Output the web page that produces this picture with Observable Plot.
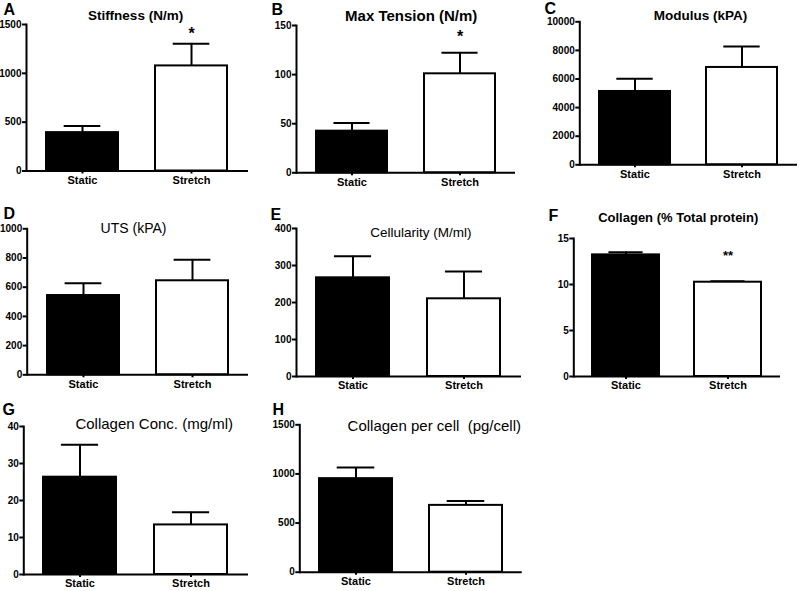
<!DOCTYPE html>
<html><head><meta charset="utf-8">
<script src="https://cdn.jsdelivr.net/npm/d3@7"></script>
<script src="https://cdn.jsdelivr.net/npm/@observablehq/plot@0.6"></script>
<style>
body{margin:0;background:#fff;}
#root{position:relative;width:799px;height:591px;overflow:hidden;background:#fff;}
#root > div{position:absolute;}
</style></head><body><div id="root"></div>
<script>
// ---- data ----
const groups = ["Static", "Stretch"];
const panelLetters = ["A", "B", "C", "D", "E", "F", "G", "H"];
const panelTitles = ["Stiffness (N/m)", "Max Tension (N/m)", "Modulus (kPA)", "UTS (kPA)",
  "Cellularity (M/ml)", "Collagen (% Total protein)", "Collagen Conc. (mg/ml)", "Collagen per cell  (pg/cell)"];

const stiffnessMean = [393, 1076], stiffnessErr = [67, 227], stiffnessSig = ["", "*"];
const tensionMean = [42.4, 100.8], tensionErr = [8.2, 21.4], tensionSig = ["", "*"];
const modulusMean = [5128, 6807], modulusErr = [886, 1468], modulusSig = ["", ""];
const utsMean = [543, 644], utsErr = [84, 144], utsSig = ["", ""];
const cellMean = [266.7, 210], cellErr = [58.3, 73.8], cellSig = ["", ""];
const collPctMean = [13.22, 10.25], collPctErr = [0.29, 0.11], collPctSig = ["", "**"];
const collConcMean = [26.3, 13.4], collConcErr = [8.8, 3.4], collConcSig = ["", ""];
const collCellMean = [952, 680], collCellErr = [113, 44], collCellSig = ["", ""];

const ticksA = [0, 500, 1000, 1500];
const ticksB = [0, 50, 100, 150];
const ticksC = [0, 2000, 4000, 6000, 8000, 10000];
const ticksD = [0, 200, 400, 600, 800, 1000];
const ticksE = [0, 100, 200, 300, 400];
const ticksF = [0, 5, 10, 15];
const ticksG = [0, 10, 20, 30, 40];
const ticksH = [0, 500, 1000, 1500];

// ---- layout ----
const layouts = [
  {left: 0, top: 0, w: 265, h: 190, x0: 26, x1: 248, yT: 24, y0: 170.5},
  {left: 265, top: 0, w: 265, h: 190, x0: 296, x1: 515, yT: 25, y0: 172.3},
  {left: 530, top: 0, w: 269, h: 190, x0: 579.3, x1: 797, yT: 21.3, y0: 164.3},
  {left: 0, top: 190, w: 265, h: 200, x0: 26.7, x1: 248, yT: 228.3, y0: 374.3},
  {left: 265, top: 190, w: 265, h: 200, x0: 296, x1: 521, yT: 228, y0: 376},
  {left: 530, top: 190, w: 269, h: 200, x0: 573.3, x1: 780, yT: 238, y0: 376},
  {left: 0, top: 390, w: 265, h: 201, x0: 23.3, x1: 248, yT: 426, y0: 574},
  {left: 265, top: 390, w: 265, h: 201, x0: 299.3, x1: 521.7, yT: 424.3, y0: 571.7}
];
const titleLayout = [
  {cx: 135, by: 19.5, size: 13.5, weight: "bold"},
  {cx: 410.7, by: 20, size: 15, weight: "bold"},
  {cx: 700, by: 19, size: 13.5, weight: "bold"},
  {cx: 133, by: 232.7, size: 14, weight: "normal"},
  {cx: 420.3, by: 236.7, size: 13.5, weight: "normal"},
  {cx: 677.7, by: 221.7, size: 13, weight: "bold"},
  {cx: 153.7, by: 428.3, size: 15, weight: "normal"},
  {cx: 433.8, by: 430, size: 15, weight: "normal"}
];
const letterLayout = [
  {x: 3, by: 14}, {x: 271, by: 14}, {x: 544, by: 14},
  {x: 3, by: 218}, {x: 270, by: 219}, {x: 548, by: 220},
  {x: 2, by: 414}, {x: 272, by: 414}
];
const sigLayout = [{size: 16, by: 38.8}, {size: 16, by: 41}, null, null, null, {size: 13, by: 259.2}, null, null];

function panel(i, means, errs, sigs, ticks) {
  const L = layouts[i], T = titleLayout[i], P = letterLayout[i], S = sigLayout[i];
  const data = groups.map((g, j) => ({group: g, mean: means[j], hi: means[j] + errs[j], sig: sigs[j]}));
  const pi = 0.32, po = 0.17;
  const fw = L.x1 - L.x0;
  const bw = fw / (groups.length - pi + 2 * po) * (1 - pi);
  const marks = [
    Plot.ruleX(data, {x: "group", y1: "mean", y2: "hi", strokeWidth: 2}),
    Plot.tickY(data, {x: "group", y: "hi", strokeWidth: 2, insetLeft: bw / 4, insetRight: bw / 4}),
    Plot.barY(data, {x: "group", y: "mean", fill: "group", stroke: "black", strokeWidth: 2, insetLeft: 1, insetRight: 1}),
    Plot.ruleY([0], {strokeWidth: 2}),
    Plot.frame({anchor: "left", strokeWidth: 2}),
    Plot.axisY(ticks, {tickSize: 4, tickPadding: 1, tickFormat: d3.format("d"), fontSize: 10, fontWeight: "bold", strokeWidth: 2, label: null}),
    Plot.axisX({tickSize: 3, tickPadding: 2, fontSize: 11, fontWeight: "bold", strokeWidth: 2, label: null}),
    Plot.text([panelTitles[i]], {text: d => d, frameAnchor: "top-left", dx: T.cx - L.x0, dy: T.by - L.yT,
      textAnchor: "middle", lineAnchor: "bottom", fontSize: T.size, fontWeight: T.weight}),
    Plot.text([panelLetters[i]], {text: d => d, frameAnchor: "top-left", dx: P.x - L.x0, dy: P.by - L.yT,
      textAnchor: "start", lineAnchor: "bottom", fontSize: 16, fontWeight: "bold"})
  ];
  if (S) marks.push(Plot.text(data, {x: "group", text: "sig", frameAnchor: "top", dy: S.by - L.yT,
    lineAnchor: "bottom", fontSize: S.size, fontWeight: "bold"}));
  const chart = Plot.plot({
    width: L.w, height: L.h,
    marginLeft: L.x0 - L.left, marginRight: L.left + L.w - L.x1,
    marginTop: L.yT - L.top, marginBottom: L.top + L.h - L.y0,
    x: {domain: groups, paddingInner: pi, paddingOuter: po},
    y: {domain: [0, d3.max(ticks)]},
    color: {domain: groups, range: ["black", "white"]},
    style: {fontFamily: "'Liberation Sans', Arial, sans-serif", fontWeight: "bold", fontSize: "10px", color: "black", background: "transparent", overflow: "visible"},
    marks
  });
  const div = document.createElement("div");
  div.style.left = L.left + "px";
  div.style.top = L.top + "px";
  div.appendChild(chart);
  document.getElementById("root").appendChild(div);
}

panel(0, stiffnessMean, stiffnessErr, stiffnessSig, ticksA);
panel(1, tensionMean, tensionErr, tensionSig, ticksB);
panel(2, modulusMean, modulusErr, modulusSig, ticksC);
panel(3, utsMean, utsErr, utsSig, ticksD);
panel(4, cellMean, cellErr, cellSig, ticksE);
panel(5, collPctMean, collPctErr, collPctSig, ticksF);
panel(6, collConcMean, collConcErr, collConcSig, ticksG);
panel(7, collCellMean, collCellErr, collCellSig, ticksH);
</script></body></html>
